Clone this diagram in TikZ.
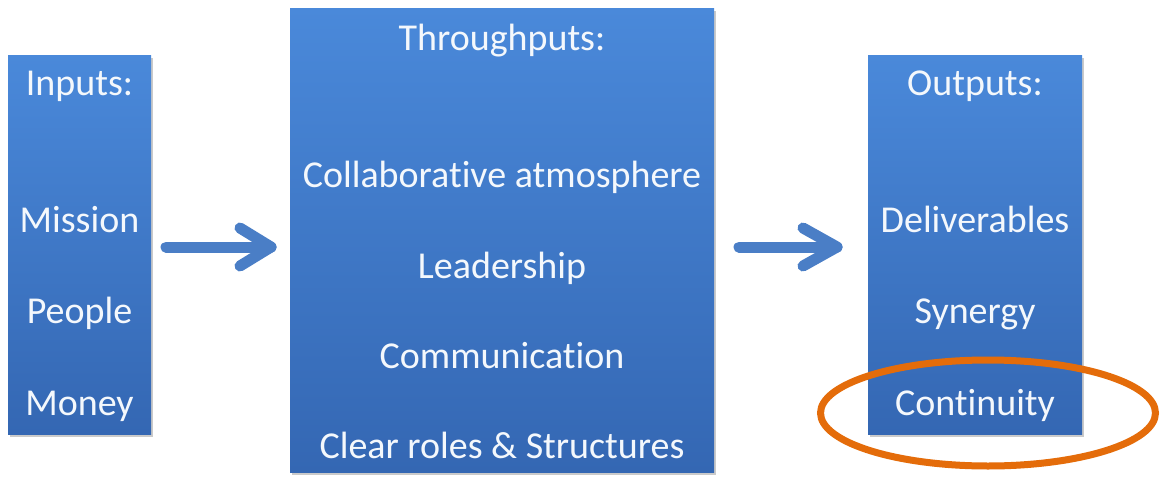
\documentclass[tikz,border=0pt]{standalone}
\usepackage{fontspec}
\setmainfont[RawFeature=-liga]{Carlito}
\usetikzlibrary{shadows,shapes.geometric}
\definecolor{boxtop}{HTML}{4A89DA}
\definecolor{boxbot}{HTML}{3467B3}
\definecolor{arrowblue}{HTML}{4A7EC6}
\definecolor{ringorange}{HTML}{E46C0A}
\definecolor{txt}{HTML}{F4F8FC}
\tikzset{
  panel/.style={top color=boxtop, bottom color=boxbot, draw=none, inner sep=0pt,
    drop shadow={shadow xshift=2pt, shadow yshift=-3pt, opacity=0.35, fill=black!60}},
  lbl/.style={text=txt, font=\fontsize{38}{42}\selectfont, inner sep=0pt, anchor=base},
  flow/.style={arrowblue, line width=11pt, line cap=round, line join=round},
  ring/.style={ringorange, line width=7pt}
}
\begin{document}
\begin{tikzpicture}[x=1pt,y=-1pt]
\useasboundingbox (0,0) rectangle (1160,479);
% boxes
\node[panel, minimum width=143pt, minimum height=379pt] (in) at (79.5,244.5) {};
\node[panel, minimum width=424pt, minimum height=464pt] (thr) at (502,240) {};
\node[panel, minimum width=214pt, minimum height=379pt] (out) at (975,244.5) {};
% labels
\node[lbl] (t1) at (79.5,95) {Inputs:};
\node[lbl] (t2) at (79.5,232) {Mission};
\node[lbl] (t3) at (79.5,323) {People};
\node[lbl] (t4) at (79.5,415) {Money};
\node[lbl] (t5) at (502,50) {Throughputs:};
\node[lbl] (t6) at (502,187) {Collaborative atmosphere};
\node[lbl] (t7) at (502,278) {Leadership};
\node[lbl] (t8) at (502,368) {Communication};
\node[lbl] (t9) at (502,458) {Clear roles \& Structures};
\node[lbl] (t10) at (975,95) {Outputs:};
\node[lbl] (t11) at (975,232) {Deliverables};
\node[lbl] (t12) at (975,323) {Synergy};
\node[lbl] (t13) at (975,415) {Continuity};
% arrows
\coordinate (a1s) at (166,247);
\coordinate (a1e) at (271,247);
\coordinate (a1u) at (240,228);
\coordinate (a1d) at (240,266);
\coordinate (a2s) at (739,247);
\coordinate (a2e) at (837,247);
\coordinate (a2u) at (803,228);
\coordinate (a2d) at (803,266);
\draw[flow] (a1s) -- (a1e);
\draw[flow] (a1u) -- (a1e) -- (a1d);
\draw[flow] (a2s) -- (a2e);
\draw[flow] (a2u) -- (a2e) -- (a2d);
% ring
\node[ring, draw, ellipse, minimum width=335pt, minimum height=106pt, inner sep=0pt] (ring) at (988,413) {};
\end{tikzpicture}
\end{document}
